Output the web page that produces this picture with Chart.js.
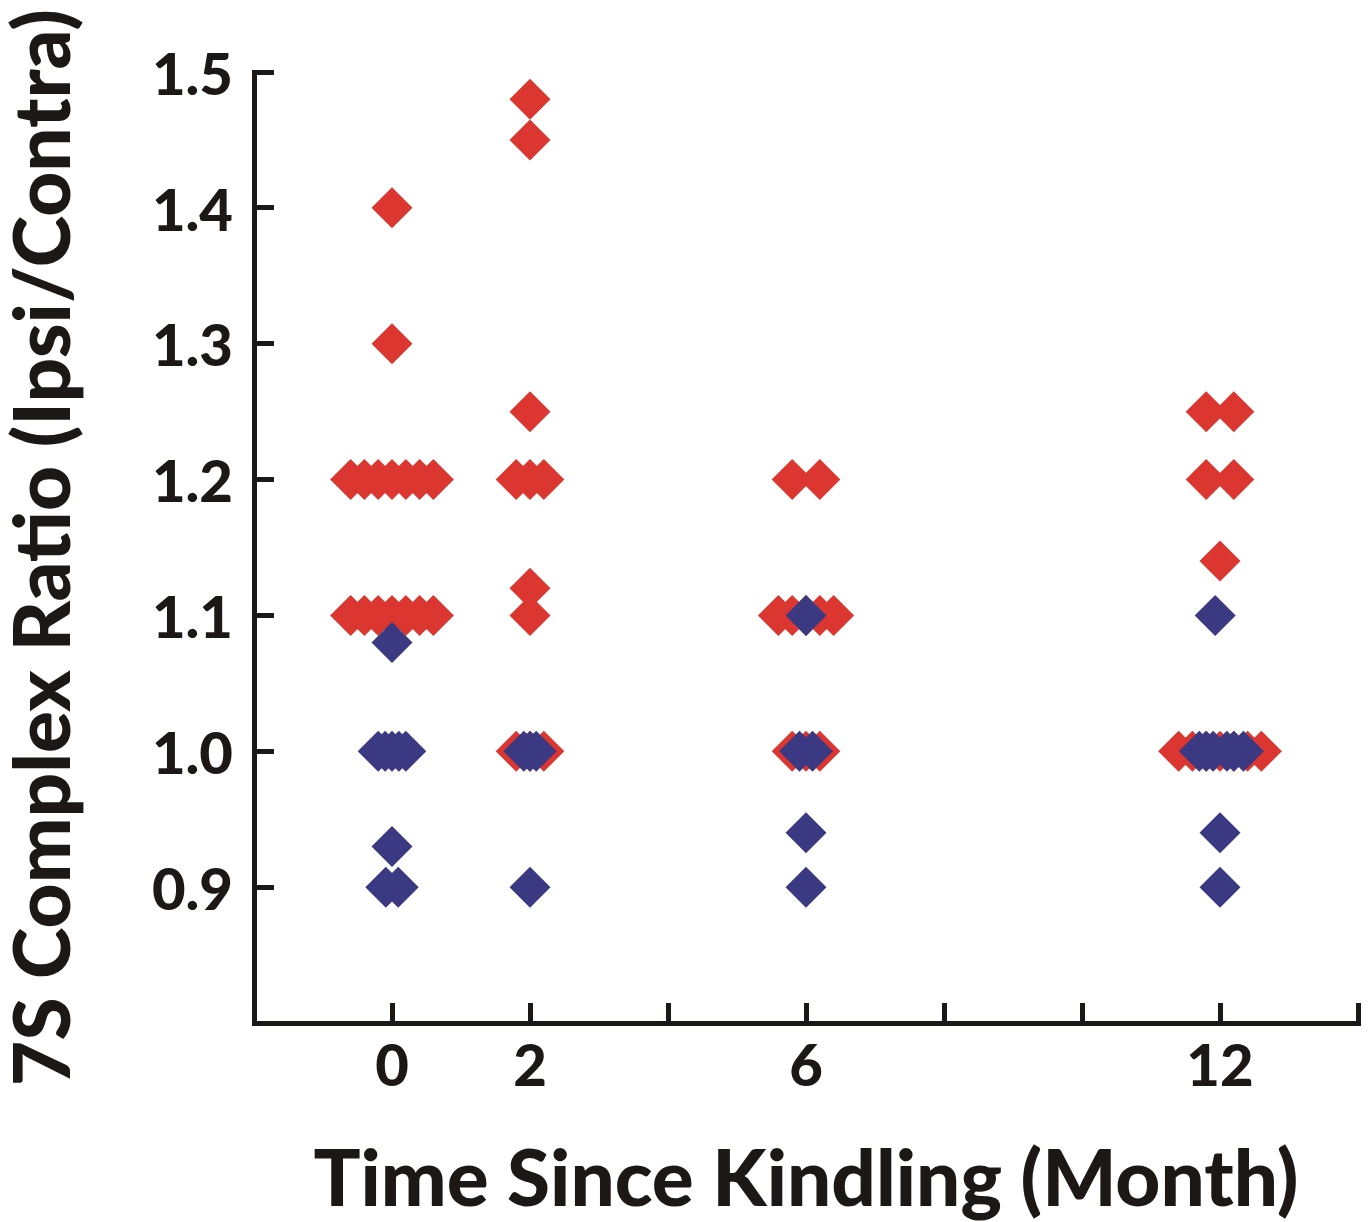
<!DOCTYPE html>
<html>
<head>
<meta charset="utf-8">
<script src="https://cdn.jsdelivr.net/npm/chart.js@4.4.0/dist/chart.umd.min.js"></script>
<style>
  html, body { margin: 0; padding: 0; background: #ffffff; }
  canvas { display: block; }
</style>
</head>
<body>
<canvas id="c" width="1368" height="1222"></canvas>
<script>
// ---------------- data ----------------
const monthLabels = ['0', '2', '6', '12'];
const monthSlots  = [1, 2, 4, 7];              // axis slot for each month
const xTickValues = [0, 1, 2, 3, 4, 5, 6, 7, 8];
const xTickLabels = ['', '0', '2', '', '6', '', '', '12', ''];
const yTickValues = [0.8, 0.9, 1.0, 1.1, 1.2, 1.3, 1.4, 1.5];
const yTickLabels = ['', '0.9', '1.0', '1.1', '1.2', '1.3', '1.4', '1.5'];

// red series (values and horizontal jitter within the month slot)
const red0   = [1.40, 1.30, 1.20, 1.20, 1.20, 1.20, 1.20, 1.20, 1.20, 1.10, 1.10, 1.10, 1.10, 1.10, 1.10, 1.10];
const red0J  = [0, 0, -0.3, -0.2, -0.1, 0, 0.1, 0.2, 0.3, -0.3, -0.2, -0.1, 0, 0.1, 0.2, 0.3];
const red2   = [1.48, 1.45, 1.25, 1.20, 1.20, 1.20, 1.12, 1.10, 1.00, 1.00, 1.00];
const red2J  = [0, 0, 0, -0.1, 0, 0.1, 0, 0, -0.1, 0, 0.1];
const red6   = [1.20, 1.20, 1.10, 1.10, 1.10, 1.10, 1.10, 1.00, 1.00, 1.00];
const red6J  = [-0.1, 0.1, -0.2, -0.1, 0, 0.1, 0.2, -0.1, 0, 0.1];
const red12  = [1.25, 1.25, 1.20, 1.20, 1.14, 1.00, 1.00, 1.00, 1.00, 1.00, 1.00, 1.00];
const red12J = [-0.1, 0.1, -0.1, 0.1, 0, -0.3, -0.2, -0.1, 0, 0.1, 0.2, 0.3];

// blue series
const blue0   = [1.08, 1.00, 1.00, 1.00, 1.00, 1.00, 0.93, 0.90, 0.90];
const blue0J  = [0, -0.1, -0.05, 0, 0.05, 0.1, 0, -0.045, 0.045];
const blue2   = [1.00, 1.00, 1.00, 0.90];
const blue2J  = [-0.045, 0, 0.045, 0];
const blue6   = [1.10, 1.00, 1.00, 0.94, 0.90];
const blue6J  = [0, -0.047, 0.047, 0, 0];
const blue12  = [1.10, 1.00, 1.00, 1.00, 1.00, 1.00, 1.00, 0.94, 0.90];
const blue12J = [-0.035, -0.15, -0.1, -0.05, 0.05, 0.1, 0.17, 0, 0];

const xTitle = 'Time Since Kindling (Month)';
const yTitle = '7S Complex Ratio (Ipsi/Contra)';

// ---------------- build ----------------
function points(slot, vals, jit) {
  return vals.map((v, i) => ({ x: slot + jit[i], y: v }));
}
const redPts = [].concat(
  points(monthSlots[0], red0, red0J),
  points(monthSlots[1], red2, red2J),
  points(monthSlots[2], red6, red6J),
  points(monthSlots[3], red12, red12J)
);
const bluePts = [].concat(
  points(monthSlots[0], blue0, blue0J),
  points(monthSlots[1], blue2, blue2J),
  points(monthSlots[2], blue6, blue6J),
  points(monthSlots[3], blue12, blue12J)
);

const FONT = 'Lato, "Open Sans", "DejaVu Sans", sans-serif';
const WEIGHT = '900';
const INK = '#1b1815';
const RED = '#dc3630';
const BLUE = '#3b3982';

// fit title font sizes to the reference text lengths
const mctx = document.createElement('canvas').getContext('2d');
function fitSize(text, target) {
  mctx.font = WEIGHT + ' 100px ' + FONT;
  return 100 * target / mctx.measureText(text).width;
}
const xTitleSize = fitSize(xTitle, 985);
const yTitleSize = fitSize(yTitle, 1077);

const ctx = document.getElementById('c').getContext('2d');
new Chart(ctx, {
  type: 'scatter',
  data: {
    datasets: [
      { label: 'Ipsi > Contra', data: redPts, backgroundColor: RED, borderColor: RED, borderWidth: 0,
        pointStyle: 'rectRot', pointRadius: 20.5, pointHoverRadius: 20.5, order: 2 },
      { label: 'Ipsi = Contra', data: bluePts, backgroundColor: BLUE, borderColor: BLUE, borderWidth: 0,
        pointStyle: 'rectRot', pointRadius: 20.5, pointHoverRadius: 20.5, order: 1 }
    ]
  },
  options: {
    responsive: false,
    animation: false,
    devicePixelRatio: 1,
    events: [],
    layout: { autoPadding: false, padding: { top: 72, right: 10, bottom: 0, left: 0 } },
    plugins: { legend: { display: false }, tooltip: { enabled: false } },
    scales: {
      x: {
        type: 'linear', position: 'bottom', min: 0, max: 8,
        afterBuildTicks: s => { s.ticks = xTickValues.map(v => ({ value: v })); },
        afterFit: s => { s.height = 199; s.paddingLeft = 0; s.paddingRight = 0; },
        grid: { display: true, drawOnChartArea: false, drawTicks: true, tickLength: -20,
                tickWidth: 5, tickColor: INK, lineWidth: 5, color: INK },
        border: { display: true, color: INK, width: 5 },
        ticks: {
          autoSkip: false, maxRotation: 0, minRotation: 0, padding: 29, color: INK,
          font: { family: FONT, weight: WEIGHT, size: 58, lineHeight: 1.2 },
          callback: (v, i) => xTickLabels[i]
        },
        title: {
          display: true, text: xTitle, color: INK,
          font: { family: FONT, weight: WEIGHT, size: xTitleSize, lineHeight: 1 },
          padding: { top: 0, bottom: 41 - xTitleSize / 2 }
        }
      },
      y: {
        type: 'linear', position: 'left', min: 0.8, max: 1.5,
        afterBuildTicks: s => { s.ticks = yTickValues.map(v => ({ value: v })); },
        afterFit: s => { s.width = 254; s.paddingTop = 0; s.paddingBottom = 0; },
        grid: { display: true, drawOnChartArea: false, drawTicks: true, tickLength: -20,
                tickWidth: 5, tickColor: INK, lineWidth: 5, color: INK },
        border: { display: true, color: INK, width: 5 },
        ticks: {
          autoSkip: false, padding: 41, labelOffset: 4, color: INK,
          font: { family: FONT, weight: WEIGHT, size: 58, lineHeight: 1.2 },
          callback: (v, i) => yTickLabels[i]
        },
        title: {
          display: true, text: yTitle, color: INK,
          font: { family: FONT, weight: WEIGHT, size: yTitleSize, lineHeight: 1 },
          padding: { top: 45 - yTitleSize / 2, bottom: 0 }
        }
      }
    }
  }
});
</script>
</body>
</html>
